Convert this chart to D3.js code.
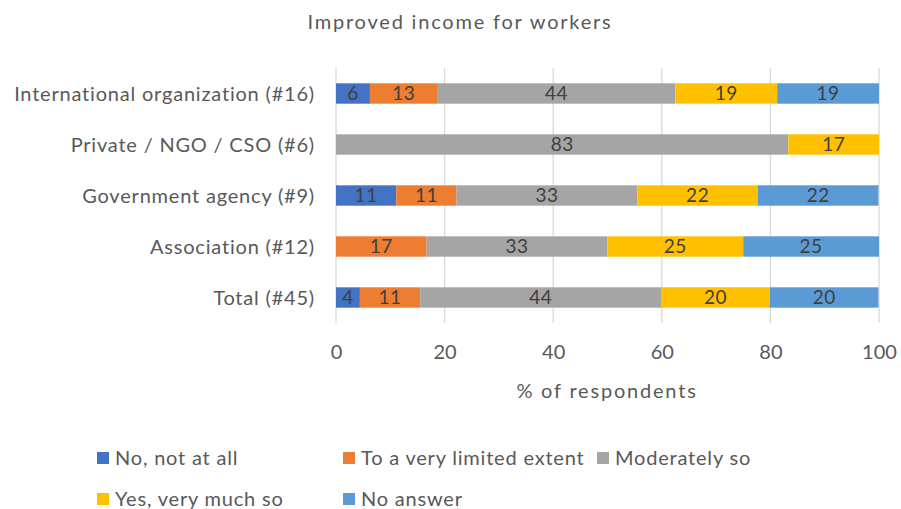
<!DOCTYPE html>
<html>
<head>
<meta charset="utf-8">
<script src="https://cdn.jsdelivr.net/npm/d3@7"></script>
<style>
  body { margin: 0; background: #fff; }
  svg { display: block; font-family: Lato, "Open Sans", sans-serif; }
</style>
</head>
<body>
<svg id="chart" width="901" height="509"></svg>
<script>
// categories, top to bottom
const categories = [
  "International organization (#16)",
  "Private / NGO / CSO (#6)",
  "Government agency (#9)",
  "Association (#12)",
  "Total (#45)"
];
// answer series
const seriesNames = ["No, not at all", "To a very limited extent", "Moderately so", "Yes, very much so", "No answer"];
const seriesColors = ["#4472C4", "#ED7D31", "#A5A5A5", "#FFC000", "#5B9BD5"];
// % of respondents per series (same order as categories)
const noNotAtAll   = [6.25, 0, 11.1, 0, 4.4];
const veryLimited  = [12.5, 0, 11.1, 16.7, 11.1];
const moderately   = [43.75, 83.3, 33.3, 33.3, 44.4];
const yesVeryMuch  = [18.75, 16.7, 22.2, 25, 20];
const noAnswer     = [18.75, 0, 22.2, 25, 20];
const xTicks = [0, 20, 40, 60, 80, 100];

const seriesValues = [noNotAtAll, veryLimited, moderately, yesVeryMuch, noAnswer];
const rows = categories.map((c, i) => {
  const r = { cat: c };
  seriesNames.forEach((s, j) => r[s] = seriesValues[j][i]);
  return r;
});

const svg = d3.select("#chart");
const textCol = "#595959";

const x = d3.scaleLinear().domain([0, 100]).range([336, 879]);
const y = d3.scaleBand().domain(categories).range([68, 323]).paddingInner(0.6).paddingOuter(0.3);

// title
svg.append("text")
  .attr("x", 460).attr("y", 29)
  .attr("text-anchor", "middle")
  .attr("fill", textCol)
  .style("font-size", "20px")
  .style("letter-spacing", "1.8px")
  .text("Improved income for workers");

// gridlines
svg.append("g")
  .selectAll("line")
  .data(xTicks)
  .join("line")
  .attr("x1", d => x(d)).attr("x2", d => x(d))
  .attr("y1", 68).attr("y2", 323)
  .attr("stroke", "#d9d9d9")
  .attr("stroke-width", 1.3);

// stacked bars
const stack = d3.stack().keys(seriesNames)(rows);
const layer = svg.append("g")
  .selectAll("g")
  .data(stack)
  .join("g")
  .attr("fill", (d, i) => seriesColors[i]);

layer.selectAll("rect")
  .data(d => d)
  .join("rect")
  .attr("x", d => x(d[0]))
  .attr("width", d => x(d[1]) - x(d[0]))
  .attr("y", d => y(d.data.cat))
  .attr("height", y.bandwidth());

// data labels
layer.selectAll("text")
  .data(d => d.filter(v => v[1] - v[0] > 0))
  .join("text")
  .attr("x", d => (x(d[0]) + x(d[1])) / 2)
  .attr("y", d => y(d.data.cat) + y.bandwidth() / 2)
  .attr("dy", "0.36em")
  .attr("text-anchor", "middle")
  .attr("fill", "#404040")
  .style("font-size", "19px")
  .style("letter-spacing", "0.5px")
  .text(d => Math.round(d[1] - d[0]));

// category labels
svg.append("g")
  .selectAll("text")
  .data(categories)
  .join("text")
  .attr("x", 315)
  .attr("y", d => y(d) + y.bandwidth() / 2)
  .attr("dy", "0.36em")
  .attr("text-anchor", "end")
  .attr("fill", textCol)
  .style("font-size", "20px")
  .style("letter-spacing", "0.8px")
  .text(d => d);

// x axis
const xAxis = svg.append("g")
  .attr("transform", "translate(0,323)")
  .call(d3.axisBottom(x).tickValues(xTicks).tickSize(0).tickPadding(22));
xAxis.select(".domain").remove();
xAxis.selectAll("text")
  .attr("fill", textCol)
  .style("font-size", "20px")
  .style("font-family", "Lato, 'Open Sans', sans-serif");

svg.append("text")
  .attr("x", 607).attr("y", 398)
  .attr("text-anchor", "middle")
  .attr("fill", textCol)
  .style("font-size", "20px")
  .style("letter-spacing", "1.8px")
  .text("% of respondents");

// legend
const legendPos = [[97, 458], [343, 458], [597, 458], [97, 499], [343, 499]];
const legend = svg.append("g")
  .selectAll("g")
  .data(seriesNames)
  .join("g")
  .attr("transform", (d, i) => `translate(${legendPos[i][0]},${legendPos[i][1]})`);
legend.append("rect")
  .attr("x", 0).attr("y", -6)
  .attr("width", 12).attr("height", 12)
  .attr("fill", (d, i) => seriesColors[i]);
legend.append("text")
  .attr("x", 18)
  .attr("dy", "0.36em")
  .attr("fill", textCol)
  .style("font-size", "20px")
  .style("letter-spacing", "0.8px")
  .text(d => d);
</script>
</body>
</html>
